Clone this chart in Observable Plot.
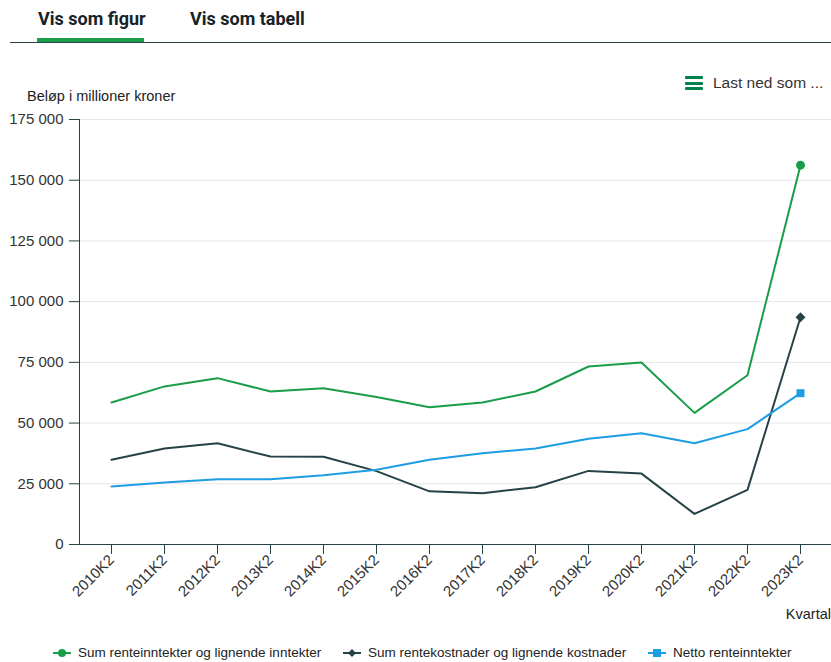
<!DOCTYPE html>
<html>
<head>
<meta charset="utf-8">
<script src="https://cdn.jsdelivr.net/npm/d3@7"></script>
<script src="https://cdn.jsdelivr.net/npm/@observablehq/plot@0.6"></script>
<style>
  html, body { margin: 0; padding: 0; background: #fff; }
  body { width: 831px; height: 662px; position: relative; overflow: hidden; font-family: "Liberation Sans", Arial, sans-serif; color: #274247; }
  .tab { position: absolute; top: 8px; font-family: Roboto, sans-serif; font-weight: 700; font-size: 18px; color: #162327; }
  #tabline { position: absolute; left: 10px; top: 42px; width: 821px; height: 1px; background: #274247; }
  #tabactive { position: absolute; left: 37px; top: 38px; width: 107px; height: 4px; background: #1a9d49; }
  #dl { position: absolute; left: 685px; top: 74px; font-size: 15.5px; color: #333; display: flex; align-items: center; }
  #dl .icon { width: 18px; height: 14px; margin-right: 10px; display: flex; flex-direction: column; justify-content: space-between; }
  #dl .icon span { display: block; height: 3px; background: #00824d; border-radius: 1px; }
  #ylabel { position: absolute; left: 27px; top: 88px; font-size: 14.5px; color: #222; }
  #chart { position: absolute; left: 0; top: 100px; }
  #xlabel { position: absolute; right: 0px; top: 606px; font-size: 14.5px; color: #222; }
  #legend { position: absolute; left: 0; top: 645px; width: 831px; font-size: 13.5px; color: #222; }
  .item { position: absolute; display: flex; align-items: center; white-space: nowrap; }
  .item svg { margin-right: 7px; }
</style>
</head>
<body>
<div class="tab" style="left:38px">Vis som figur</div>
<div class="tab" style="left:190px">Vis som tabell</div>
<div id="tabline"></div>
<div id="tabactive"></div>
<div id="dl"><div class="icon"><span></span><span></span><span></span></div>Last ned som ...</div>
<div id="ylabel">Beløp i millioner kroner</div>
<div id="chart"></div>
<div id="xlabel">Kvartal</div>
<div id="legend"></div>
<script>
const quarters = ["2010K2","2011K2","2012K2","2013K2","2014K2","2015K2","2016K2","2017K2","2018K2","2019K2","2020K2","2021K2","2022K2","2023K2"];
const seriesNames = ["Sum renteinntekter og lignende inntekter", "Sum rentekostnader og lignende kostnader", "Netto renteinntekter"];
const inntekter = [58500, 65100, 68500, 63000, 64300, 60700, 56500, 58500, 63000, 73300, 74900, 54200, 69700, 156200];
const kostnader = [34900, 39500, 41700, 36200, 36100, 30200, 21900, 21100, 23600, 30300, 29200, 12600, 22500, 93600];
const netto = [23900, 25500, 26900, 26900, 28500, 30800, 34900, 37600, 39500, 43500, 45800, 41700, 47500, 62300];
const yTicks = [0, 25000, 50000, 75000, 100000, 125000, 150000, 175000];
const colors = ["#1a9d49", "#274247", "#1d9de2"];
const symbols = ["circle", "diamond2", "square"];

const values = [inntekter, kostnader, netto];
const data = [];
values.forEach((vals, s) => vals.forEach((v, i) => data.push({ serie: seriesNames[s], kvartal: quarters[i], verdi: v })));
const last = data.filter(d => d.kvartal === quarters[quarters.length - 1]);

const nb = d3.formatLocale({ decimal: ",", thousands: " ", grouping: [3], currency: ["", " kr"] });
const fmt = nb.format(",d");

const chart = Plot.plot({
  width: 831,
  height: 530,
  marginTop: 19,
  marginBottom: 86,
  marginLeft: 79,
  marginRight: 0,
  style: { fontFamily: "'Liberation Sans', Arial, sans-serif", fontSize: "15px", color: "#333", background: "transparent" },
  x: { type: "point", domain: quarters, padding: 0.5, label: null },
  y: { domain: [0, 175000], label: null },
  color: { domain: seriesNames, range: colors },
  symbol: { domain: seriesNames, range: symbols },
  marks: [
    Plot.gridY(yTicks, { stroke: "#e6e6e6", strokeOpacity: 1 }),
    Plot.axisY(yTicks, { tickFormat: fmt, tickSize: 10, tickPadding: 6, fontSize: 15, stroke: "#274247", fill: "#333", label: null }),
    Plot.axisX({ tickSize: 10, tickRotate: -45, tickPadding: 3, fontSize: 15, stroke: "#274247", fill: "#333", label: null }),
    Plot.frame({ anchor: "left", stroke: "#274247" }),
    Plot.ruleY([0], { stroke: "#274247" }),
    Plot.line(data, { x: "kvartal", y: "verdi", z: "serie", stroke: "serie", strokeWidth: 2 }),
    Plot.dot(last, { x: "kvartal", y: "verdi", fill: "serie", symbol: "serie", r: 4.5, stroke: null })
  ]
});
document.getElementById("chart").appendChild(chart);

const legend = document.getElementById("legend");
const lpos = [53, 343, 648];
seriesNames.forEach((name, i) => {
  const it = document.createElement("div");
  it.className = "item";
  it.style.left = lpos[i] + "px";
  const sym = symbols[i];
  let shape;
  if (sym === "circle") shape = `<circle cx="9" cy="6" r="4" fill="${colors[i]}"/>`;
  else if (sym === "diamond2") shape = `<path d="M9 2 L13 6 L9 10 L5 6 Z" fill="${colors[i]}"/>`;
  else shape = `<rect x="5" y="2" width="8" height="8" fill="${colors[i]}"/>`;
  it.innerHTML = `<svg width="18" height="12"><line x1="0" x2="18" y1="6" y2="6" stroke="${colors[i]}" stroke-width="2"/>${shape}</svg><span>${name}</span>`;
  legend.appendChild(it);
});
</script>
</body>
</html>
